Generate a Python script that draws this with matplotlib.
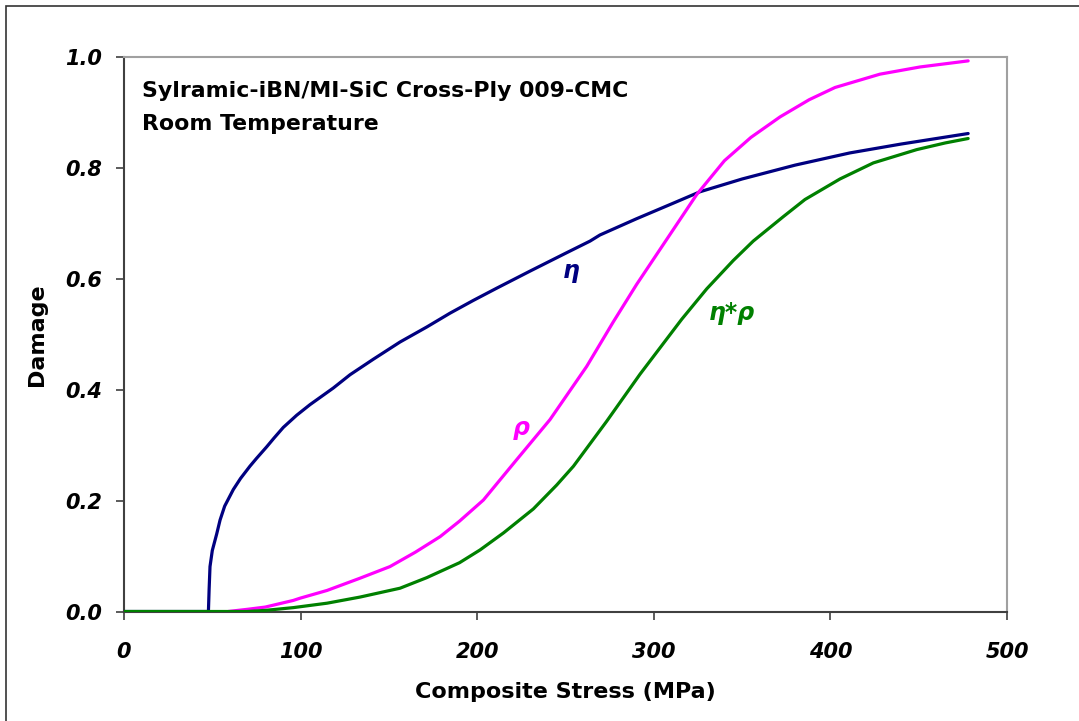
import matplotlib
matplotlib.use("Agg")
import matplotlib.pyplot as plt
from matplotlib.patches import Rectangle

# ---- data ----
eta_x = [0, 47.8, 48.2, 48.7, 50, 52.5, 54.4, 57, 61.9, 66, 71.3, 75, 80.8, 85, 90.2,
         97.8, 105.3, 118.5, 128, 141.2, 156.3, 171.4, 184.6, 197.8, 211, 230, 250,
         263.9, 269.5, 290, 310, 326.2, 350, 380, 411, 440, 460, 478]
eta_y = [0, 0, 0.04, 0.081, 0.11, 0.14, 0.165, 0.19, 0.22, 0.24, 0.262, 0.276, 0.297,
         0.313, 0.332, 0.354, 0.373, 0.403, 0.427, 0.455, 0.486, 0.513, 0.538, 0.561,
         0.583, 0.614, 0.646, 0.668, 0.679, 0.708, 0.735, 0.757, 0.780, 0.805, 0.827,
         0.843, 0.853, 0.862]

rho_x = [59, 70, 80, 95.9, 99.7, 115, 133.6, 150.6, 165, 179, 190, 203.5, 222.4,
         241.2, 262, 277, 290.3, 307.3, 324.3, 340, 355, 371.5, 388, 402.6, 428,
         450.7, 478]
rho_y = [0, 0.004, 0.008, 0.02, 0.024, 0.038, 0.06, 0.081, 0.107, 0.135, 0.163,
         0.201, 0.274, 0.346, 0.442, 0.522, 0.590, 0.671, 0.752, 0.813, 0.855,
         0.892, 0.923, 0.945, 0.969, 0.982, 0.993]

er_x = [0, 69.5, 80, 95.9, 115, 133.6, 156.3, 171.4, 190, 201.6, 215, 231.8, 245,
        254.5, 273.3, 292.2, 315.8, 330, 345, 356.3, 373.3, 385.6, 405.4, 424.3,
        448.9, 465, 478]
er_y = [0, 0, 0.002, 0.007, 0.015, 0.026, 0.042, 0.061, 0.088, 0.111, 0.142, 0.185,
        0.228, 0.262, 0.343, 0.428, 0.527, 0.582, 0.633, 0.668, 0.712, 0.743, 0.780,
        0.809, 0.833, 0.845, 0.853]

x_ticks = [0, 100, 200, 300, 400, 500]
y_ticks = [0.0, 0.2, 0.4, 0.6, 0.8, 1.0]

title_lines = ["Sylramic-iBN/MI-SiC Cross-Ply 009-CMC", "Room Temperature"]

NAVY = "#000080"
MAGENTA = "#FF00FF"
GREEN = "#008000"

plt.rcParams['font.family'] = ['DejaVu Sans']

W, H = 1079, 721
fig = plt.figure(figsize=(W / 100, H / 100), dpi=100)
fig.patch.set_facecolor("white")

# outer chart border (only left/top visible in the crop)
fig.add_artist(Rectangle((6 / W, -0.5), 2.0, 1.5 - 6 / H, transform=fig.transFigure,
                         fill=False, edgecolor="#333333", linewidth=1.2))

left, right = 124 / W, 1007 / W
top, bottom = 1 - 57 / H, 1 - 611.5 / H
ax = fig.add_axes([left, bottom, right - left, top - bottom])

ax.plot(eta_x, eta_y, color=NAVY, lw=2.3, solid_capstyle="round",
        solid_joinstyle="round", zorder=3)
ax.plot(rho_x, rho_y, color=MAGENTA, lw=2.3, solid_capstyle="round",
        solid_joinstyle="round", zorder=4)
ax.plot(er_x, er_y, color=GREEN, lw=2.3, solid_capstyle="round",
        solid_joinstyle="round", zorder=5)

ax.set_xlim(0, 500)
ax.set_ylim(0, 1.0)
ax.set_xticks(x_ticks)
ax.set_yticks(y_ticks)
ax.set_xticklabels([str(v) for v in x_ticks])
ax.set_yticklabels([f"{v:.1f}" for v in y_ticks])

for lab in ax.get_xticklabels() + ax.get_yticklabels():
    lab.set_fontweight("bold")
    lab.set_fontstyle("italic")
    lab.set_fontsize(15)

ax.tick_params(axis="both", direction="out", length=6, width=1.2, color="#404040")
ax.tick_params(axis="x", pad=16)
ax.tick_params(axis="y", pad=10)

for side in ("left", "bottom"):
    ax.spines[side].set_color("#404040")
    ax.spines[side].set_linewidth(1.5)
for side in ("top", "right"):
    ax.spines[side].set_color("#a0a0a0")
    ax.spines[side].set_linewidth(1.5)

ax.set_xlabel("Composite Stress (MPa)", fontsize=16, fontweight="bold", labelpad=14)
ax.set_ylabel("Damage", fontsize=16, fontweight="bold", labelpad=13)

ax.text(0.0204, 0.9284, title_lines[0], transform=ax.transAxes, fontsize=15.8,
        fontweight="bold", va="baseline", ha="left")
ax.text(0.0204, 0.8684, title_lines[1], transform=ax.transAxes, fontsize=15.8,
        fontweight="bold", va="baseline", ha="left")

ax.text(253.5, 0.614, "η", color=NAVY, fontsize=17, fontweight="bold",
        fontstyle="italic", ha="center", va="center")
ax.text(225.2, 0.331, "ρ", color=MAGENTA, fontsize=17, fontweight="bold",
        fontstyle="italic", ha="center", va="center")
ax.text(344.1, 0.539, "η*ρ", color=GREEN, fontsize=17, fontweight="bold",
        fontstyle="italic", ha="center", va="center")

fig.savefig("out.png", dpi=100, facecolor="white")
